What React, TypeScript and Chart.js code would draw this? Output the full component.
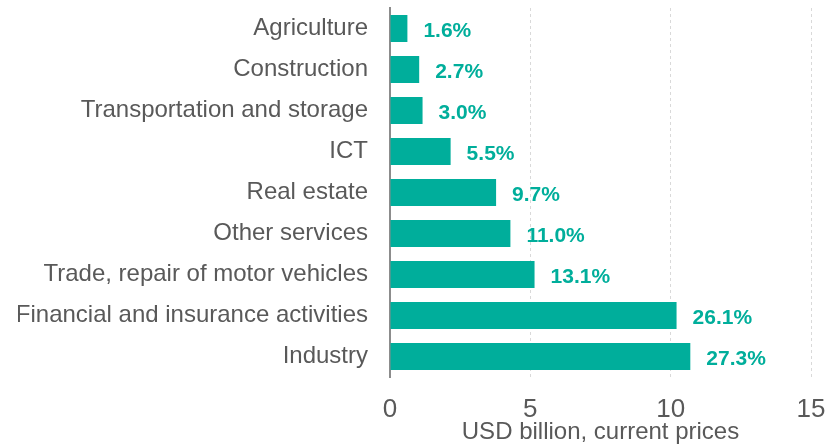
import React, { useEffect, useRef } from "react";
import { Chart, registerables } from "chart.js";

Chart.register(...registerables);

const categories = [
  "Agriculture",
  "Construction",
  "Transportation and storage",
  "ICT",
  "Real estate",
  "Other services",
  "Trade, repair of motor vehicles",
  "Financial and insurance activities",
  "Industry",
];
const values = [0.62, 1.04, 1.16, 2.16, 3.78, 4.29, 5.15, 10.21, 10.7];
const shares = ["1.6%", "2.7%", "3.0%", "5.5%", "9.7%", "11.0%", "13.1%", "26.1%", "27.3%"];
const xTicks = [0, 5, 10, 15];

const TEAL = "#00AE9B";
const GRAY = "#595959";
const FAMILY = "'Liberation Sans', Arial, sans-serif";

const labelPlugin = {
  id: "barLabels",
  afterDatasetsDraw(chart: any) {
    const ctx = chart.ctx;
    const meta = chart.getDatasetMeta(0);
    ctx.save();
    ctx.font = "bold 21px " + FAMILY;
    ctx.fillStyle = TEAL;
    ctx.textAlign = "left";
    ctx.textBaseline = "middle";
    meta.data.forEach((bar: any, i: number) => {
      ctx.fillText(shares[i], bar.x + 16, bar.y + 3);
    });
    ctx.restore();
  },
};

export default function App() {
  const ref = useRef<HTMLCanvasElement>(null);
  useEffect(() => {
    if (!ref.current) return;
    const chart = new Chart(ref.current, {
      type: "bar",
      data: {
        labels: categories,
        datasets: [
          {
            data: values,
            backgroundColor: TEAL,
            borderWidth: 0,
            barPercentage: 0.66,
            categoryPercentage: 1,
          },
        ],
      },
      options: {
        indexAxis: "y",
        animation: false,
        responsive: true,
        maintainAspectRatio: false,
        layout: { padding: { top: 8, right: 18, left: 18, bottom: 0 } },
        plugins: { legend: { display: false }, tooltip: { enabled: false } },
        scales: {
          x: {
            min: 0,
            max: 15,
            afterBuildTicks: (scale: any) => {
              scale.ticks = xTicks.map((v) => ({ value: v }));
            },
            afterFit: (scale: any) => {
              scale.height = 67;
              scale.paddingLeft = 0;
              scale.paddingRight = 0;
            },
            ticks: {
              color: GRAY,
              font: { size: 26, family: FAMILY, lineHeight: 1 },
              padding: 20,
            },
            grid: {
              color: "#D9D9D9",
              lineWidth: 1,
              drawTicks: false,
            },
            border: { display: false, dash: [3, 3] },
            title: {
              display: true,
              text: "USD billion, current prices",
              color: GRAY,
              font: { size: 24, family: FAMILY, lineHeight: 1 },
              padding: { top: 0, bottom: 0 },
            },
          },
          y: {
            afterFit: (scale: any) => {
              scale.width = 372;
              scale.paddingTop = 0;
              scale.paddingBottom = 0;
            },
            ticks: {
              color: GRAY,
              font: { size: 24, family: FAMILY },
              padding: 22,
            },
            grid: { display: false, drawTicks: false },
            border: { display: true, color: "#8C8C8C", width: 2 },
          },
        },
      },
      plugins: [labelPlugin],
    });
    return () => chart.destroy();
  }, []);
  return (
    <div style={{ position: "fixed", left: 0, top: 0, width: 829, height: 444, background: "#fff" }}>
      <canvas ref={ref} />
    </div>
  );
}
